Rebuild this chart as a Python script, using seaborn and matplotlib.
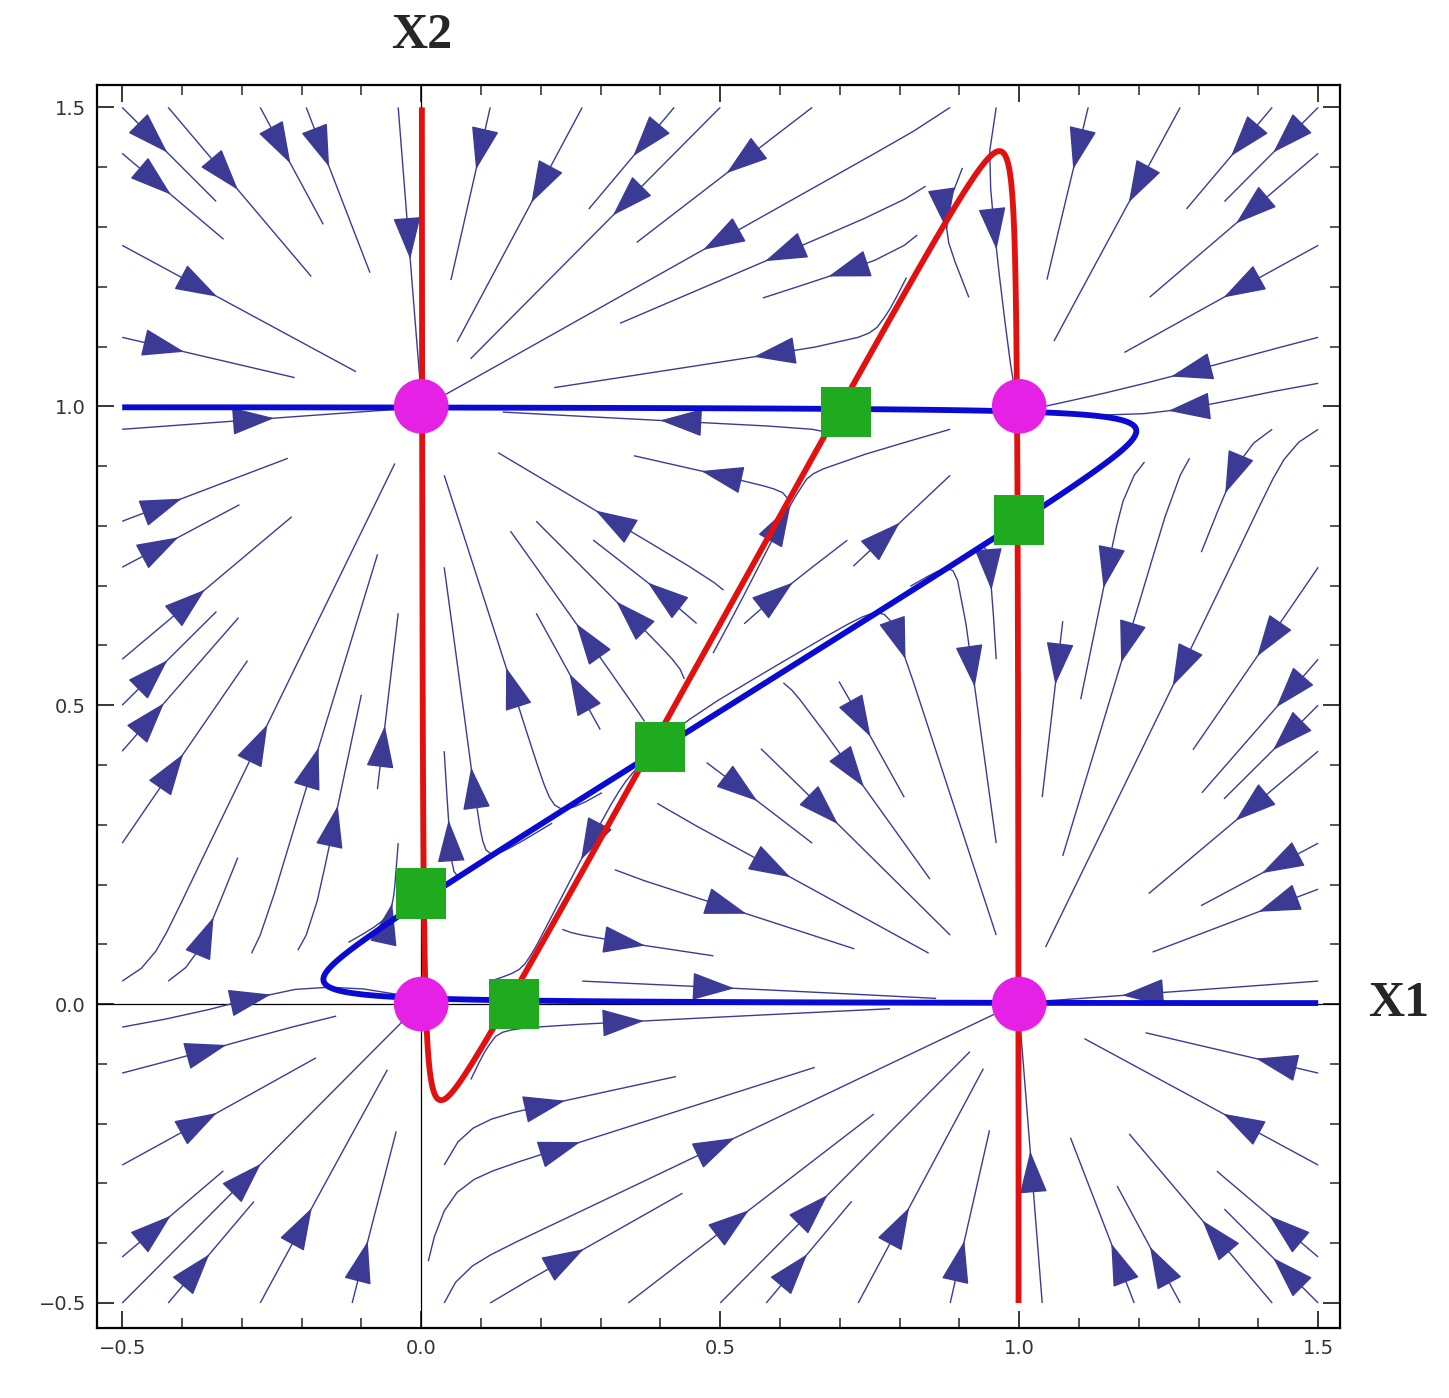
import numpy as np
import pandas as pd
import seaborn as sns
import matplotlib.pyplot as plt

# fixed points
stable_x1 = [0.0, 0.0, 1.0, 1.0]
stable_x2 = [0.0, 1.0, 0.0, 1.0]
saddle_x1 = [0.71, 1.0, 0.40, 0.0, 0.155]
saddle_x2 = [0.99, 0.81, 0.43, 0.185, 0.0]

# nullcline shapes: x1 threshold h(x2) and x2 threshold k(x1), both straight lines
h_icept, h_slope = 0.15, 0.55
k_icept, k_slope = 0.18, 0.62
eps_1 = 0.0011
eps_2 = 0.0017

ticks = [-0.5, 0.0, 0.5, 1.0, 1.5]
tick_labels = ["\u22120.5", "0.0", "0.5", "1.0", "1.5"]

STREAM = "#3b3b96"
RED = "#e31010"
BLUE = "#0a0ad2"
MAGENTA = "#e621e6"
GREEN = "#20aa20"


def softplus(v, s=0.03):
    return s * np.logaddexp(0, v / s)


def h_of(x2):
    return softplus(h_icept + h_slope * x2)


def k_of(x1):
    lin = k_icept + k_slope * x1
    return 1 - softplus(1 - softplus(lin))


def field(x1, x2):
    f = x1 * (1 - x1) * (x1 - h_of(x2)) + eps_1 * (1 - 2 * x1)
    g = x2 * (1 - x2) * (x2 - k_of(x1)) + eps_2 * (1 - 2 * x2)
    return f, g


def rescale(x, thr, d=0.03):
    # positive factor -> same zero set, but speed ~ distance to the node
    sig = 1 / (1 + np.exp(-(x - thr) / d))
    w = (1 - x) + (2 * x - 1) * sig
    return np.sqrt((x - thr) ** 2 + d ** 2) * w


sns.set_style("ticks")
fig = plt.figure(figsize=(14.49, 13.98), dpi=100)
ax = fig.add_axes([0.067, 0.050, 0.858, 0.889])

# streamlines
gx = np.linspace(-0.5, 1.5, 240)
X1, X2 = np.meshgrid(gx, gx)
U, V = field(X1, X2)
U = U / rescale(X1, h_of(X2))
V = V / rescale(X2, k_of(X1))
ax.streamplot(X1, X2, U, V, density=0.9, color=STREAM, linewidth=1.0,
              arrowsize=5.0, arrowstyle="-|>,head_length=0.55,head_width=0.18",
              zorder=2)

# axes lines
ax.axhline(0, color="black", lw=0.9, zorder=1)
ax.axvline(0, color="black", lw=0.9, zorder=1)

# nullclines
fx = np.linspace(-0.5, 1.5, 900)
F1, F2 = np.meshgrid(fx, fx)
Fu, Fv = field(F1, F2)
ax.contour(F1, F2, Fu, levels=[0], colors=[RED], linewidths=4.2, zorder=3)
ax.contour(F1, F2, Fv, levels=[0], colors=[BLUE], linewidths=4.2, zorder=3)

# fixed points
pts = pd.DataFrame({"x1": stable_x1, "x2": stable_x2})
sad = pd.DataFrame({"x1": saddle_x1, "x2": saddle_x2})
sns.scatterplot(data=pts, x="x1", y="x2", ax=ax, s=1550, color=MAGENTA,
                marker="o", edgecolor="none", zorder=5)
sns.scatterplot(data=sad, x="x1", y="x2", ax=ax, s=1300, color=GREEN,
                marker="s", edgecolor="none", zorder=5)

lim = (-0.542, 1.537)
ax.set_xlim(lim)
ax.set_ylim(lim)
ax.set_xlabel("")
ax.set_ylabel("")
ax.set_xticks(ticks)
ax.set_xticklabels(tick_labels)
ax.set_yticks(ticks)
ax.set_yticklabels(tick_labels)
ax.set_xticks(np.arange(-0.5, 1.51, 0.1), minor=True)
ax.set_yticks(np.arange(-0.5, 1.51, 0.1), minor=True)
ax.tick_params(which="major", direction="in", length=12, width=1.3,
               top=True, right=True, labelsize=14, labelcolor="#333333", pad=8)
ax.tick_params(which="minor", direction="in", length=7, width=1.1,
               top=True, right=True)
for sp in ax.spines.values():
    sp.set_linewidth(1.6)
    sp.set_color("black")

ax.text(0.0, 1.62, "X2", ha="center", va="center", fontsize=36,
        fontweight="bold", family="Liberation Serif", clip_on=False)
ax.text(1.635, 0.0, "X1", ha="center", va="center", fontsize=36,
        fontweight="bold", family="Liberation Serif", clip_on=False)

fig.savefig("out.png", dpi=100, facecolor="white")
